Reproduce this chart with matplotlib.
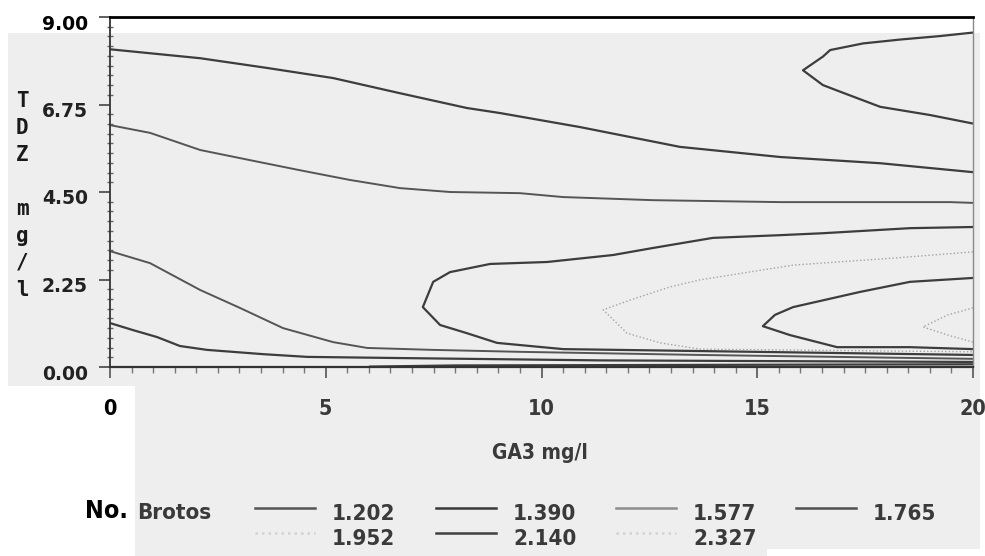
import os
import matplotlib
matplotlib.use("Agg")
import matplotlib.pyplot as plt
import matplotlib.font_manager as fm
from matplotlib.lines import Line2D
from matplotlib.patches import Rectangle
from matplotlib.ticker import MultipleLocator
from matplotlib.transforms import ScaledTranslation

# ---------------------------------------------------------------- data
levels = [1.202, 1.390, 1.577, 1.765, 1.952, 2.140, 2.327]

x_ticks = [0, 5, 10, 15, 20]
x_tick_labels = ["0", "5", "10", "15", "20"]
y_ticks = [0.0, 2.25, 4.50, 6.75, 9.00]
y_tick_labels = ["0.00", "2.25", "4.50", "6.75", "9.00"]

# contour 1.202 : closed nose at upper right and a trace along the bottom
c1202_top_x = [20.0, 19.24, 18.31, 17.45, 16.69, 16.52, 16.06, 16.52, 16.92, 17.85, 19.0, 20.0]
c1202_top_y = [8.60, 8.51, 8.42, 8.32, 8.15, 7.98, 7.63, 7.25, 7.08, 6.69, 6.48, 6.26]
c1202_low_x = [6.0, 8.0, 12.0, 16.0, 20.0]
c1202_low_y = [0.01, 0.04, 0.05, 0.06, 0.07]

# contour 1.390
c1390_top_x = [0.0, 2.09, 3.64, 5.17, 6.72, 8.27, 9.04, 10.89, 13.21, 15.53, 17.85, 20.0]
c1390_top_y = [8.17, 7.94, 7.69, 7.43, 7.04, 6.66, 6.53, 6.17, 5.66, 5.40, 5.24, 5.01]
c1390_low_x = [0.0, 0.53, 1.09, 1.62, 2.25, 3.55, 4.57, 6.72, 11.36, 20.0]
c1390_low_y = [1.13, 0.95, 0.77, 0.54, 0.44, 0.33, 0.26, 0.23, 0.17, 0.13]

# contour 1.577
c1577_top_x = [0.0, 0.93, 2.09, 3.24, 4.40, 5.56, 6.72, 7.88, 9.50, 10.50, 12.58, 15.53, 19.47, 20.0]
c1577_top_y = [6.22, 6.02, 5.58, 5.32, 5.06, 4.81, 4.60, 4.50, 4.47, 4.37, 4.29, 4.24, 4.24, 4.22]
c1577_low_x = [0.0, 0.93, 2.09, 3.01, 4.01, 5.17, 5.96, 7.49, 9.50, 13.67, 20.0]
c1577_low_y = [2.98, 2.67, 1.98, 1.52, 1.00, 0.64, 0.49, 0.44, 0.39, 0.31, 0.21]

# contour 1.765 : nose opening to the right
c1765_x = [20.0, 18.54, 16.52, 15.53, 13.97, 12.58, 11.66, 10.13, 8.81, 7.88, 7.49, 7.25,
           7.65, 8.27, 8.97, 10.50, 13.67, 20.0]
c1765_y = [3.60, 3.57, 3.44, 3.39, 3.32, 3.06, 2.88, 2.70, 2.65, 2.44, 2.19, 1.54,
           1.08, 0.87, 0.62, 0.46, 0.41, 0.31]

# contour 1.952
c1952_x = [20.0, 18.15, 15.83, 13.67, 12.98, 12.05, 11.43, 11.98, 12.75, 13.67, 20.0]
c1952_y = [2.96, 2.80, 2.62, 2.24, 2.06, 1.72, 1.47, 0.87, 0.62, 0.46, 0.39]

# contour 2.140
c2140_x = [20.0, 18.54, 17.38, 15.83, 15.41, 15.13, 15.76, 16.85, 18.54, 20.0]
c2140_y = [2.29, 2.19, 1.93, 1.54, 1.34, 1.05, 0.82, 0.51, 0.51, 0.46]

# contour 2.327
c2327_x = [20.0, 19.42, 18.84, 19.42, 20.0]
c2327_y = [1.52, 1.34, 1.03, 0.82, 0.64]

contour_traces = [
    (c1202_top_x, c1202_top_y, 1.202), (c1202_low_x, c1202_low_y, 1.202),
    (c1390_top_x, c1390_top_y, 1.390), (c1390_low_x, c1390_low_y, 1.390),
    (c1577_top_x, c1577_top_y, 1.577), (c1577_low_x, c1577_low_y, 1.577),
    (c1765_x, c1765_y, 1.765),
    (c1952_x, c1952_y, 1.952),
    (c2140_x, c2140_y, 2.140),
    (c2327_x, c2327_y, 2.327),
]

# ---------------------------------------------------------------- styles
solid_dark = dict(color="#3d3d3d", lw=1.6, ls="-")
solid_mid = dict(color="#555555", lw=1.4, ls="-")
dotted = dict(color="#a3a3a3", lw=1.0, ls=(0, (1, 1.6)))
level_style = {
    1.202: solid_dark, 1.390: solid_dark, 1.577: solid_mid, 1.765: solid_dark,
    1.952: dotted, 2.140: solid_dark, 2.327: dotted,
}
key_color = {1.202: "#555555", 1.390: "#3a3a3a", 1.577: "#8c8c8c", 1.765: "#505050",
             1.952: "#d2d2d2", 2.140: "#404040", 2.327: "#d2d2d2"}


def narrow_font(size):
    """Bold condensed face when one is installed, else a bold monospace."""
    wanted = ["liberationsansnarrow-bold", "dejavusanscondensed-bold",
              "robotocondensed-bold", "opensans_condensed-bold", "opensanscondensed-bold"]
    files = [f.fname for f in fm.fontManager.ttflist]
    for w in wanted:
        for fn in files:
            if w in os.path.basename(fn).lower().replace(" ", ""):
                fp = fm.FontProperties(fname=fn)
                fp.set_size(size)
                return fp
    return fm.FontProperties(family="DejaVu Sans Mono", weight="bold", size=size)


W, H = 985, 556


def fx(px):
    return px / W


def fy(py):
    return 1 - py / H


fig = plt.figure(figsize=(W / 100, H / 100), dpi=100)
fig.patch.set_facecolor("white")

# paper tone behind the chart
fig.add_artist(Rectangle((fx(8), 0), fx(980) - fx(8), fy(33), transform=fig.transFigure,
                         facecolor="#eeeeee", edgecolor="none", zorder=-10))
fig.add_artist(Rectangle((0, 0), fx(135), fy(386), transform=fig.transFigure,
                         facecolor="white", edgecolor="none", zorder=-9))
fig.add_artist(Rectangle((fx(767), 0), 1 - fx(767), fy(549), transform=fig.transFigure,
                         facecolor="white", edgecolor="none", zorder=-9))

ax = fig.add_axes([fx(110), fy(367), fx(973) - fx(110), fy(17) - fy(367)])
ax.set_facecolor("none")

for xs, ys, lev in contour_traces:
    ax.plot(xs, ys, solid_capstyle="butt", **level_style[lev])

ax.set_xlim(0, 20)
ax.set_ylim(0, 9)

ax.spines["top"].set_color("black")
ax.spines["top"].set_linewidth(2.0)
ax.spines["left"].set_color("#333333")
ax.spines["left"].set_linewidth(1.3)
ax.spines["right"].set_color("#8a8a8a")
ax.spines["right"].set_linewidth(1.0)
ax.spines["bottom"].set_color("#333333")
ax.spines["bottom"].set_linewidth(1.6)

ax.set_xticks(x_ticks)
ax.set_xticklabels(x_tick_labels)
ax.xaxis.set_minor_locator(MultipleLocator(0.5))
ax.set_yticks(y_ticks)
ax.set_yticklabels(y_tick_labels)
ax.yaxis.set_minor_locator(MultipleLocator(0.25))

ax.tick_params(axis="x", which="major", direction="out", length=8, width=1.2,
               color="#555555", pad=15)
ax.tick_params(axis="x", which="minor", direction="out", length=4, width=1.0,
               color="#777777")
ax.tick_params(axis="y", which="major", direction="out", length=8, width=1.2,
               color="#444444", pad=8)
ax.tick_params(axis="y", which="minor", direction="inout", length=5, width=1.0,
               color="#666666")

ytick_font = fm.FontProperties(family="DejaVu Sans", weight="bold", size=13.5)
shift = ScaledTranslation(0, -5 / 100, fig.dpi_scale_trans)
for lbl in ax.get_yticklabels():
    lbl.set_fontproperties(ytick_font)
    lbl.set_color("black" if lbl.get_text() == "9.00" else "#222222")
    lbl.set_transform(lbl.get_transform() + shift)

xtick_font = narrow_font(15.5)
for lbl in ax.get_xticklabels():
    lbl.set_fontproperties(xtick_font)
    lbl.set_color("black" if lbl.get_text() == "0" else "#3a3a3a")

# stacked y-axis title
ylab_font = fm.FontProperties(family="DejaVu Sans Mono", weight="bold", size=15)
for i, ch in enumerate("TDZ mg/l"):
    if ch != " ":
        fig.text(fx(22), fy(101 + 27 * i), ch, ha="center", va="center",
                 fontproperties=ylab_font, color="#1a1a1a")

fig.text(fx(540), fy(453), "GA3 mg/l", ha="center", va="center",
         fontproperties=narrow_font(15), color="#3a3a3a")

# key of contour levels
fig.text(fx(85), fy(511), "No.", ha="left", va="center",
         fontproperties=narrow_font(18), color="black")
fig.text(fx(137), fy(513), "Brotos", ha="left", va="center",
         fontproperties=narrow_font(16), color="#3a3a3a")

col_x = [332, 513, 693, 873]
row_y = [514, 539]
key_font = narrow_font(16)
for k, lev in enumerate(levels):
    row, col = divmod(k, 4)
    tx, ty = col_x[col], row_y[row]
    st = level_style[lev]
    fig.add_artist(Line2D([fx(tx - 77), fx(tx - 17)], [fy(ty - 6), fy(ty - 6)],
                          transform=fig.transFigure, color=key_color[lev],
                          lw=1.8, ls=st["ls"]))
    fig.text(fx(tx), fy(ty), f"{lev:.3f}", ha="left", va="center",
             fontproperties=key_font, color="#3a3a3a")

fig.savefig("out.png", dpi=100)
